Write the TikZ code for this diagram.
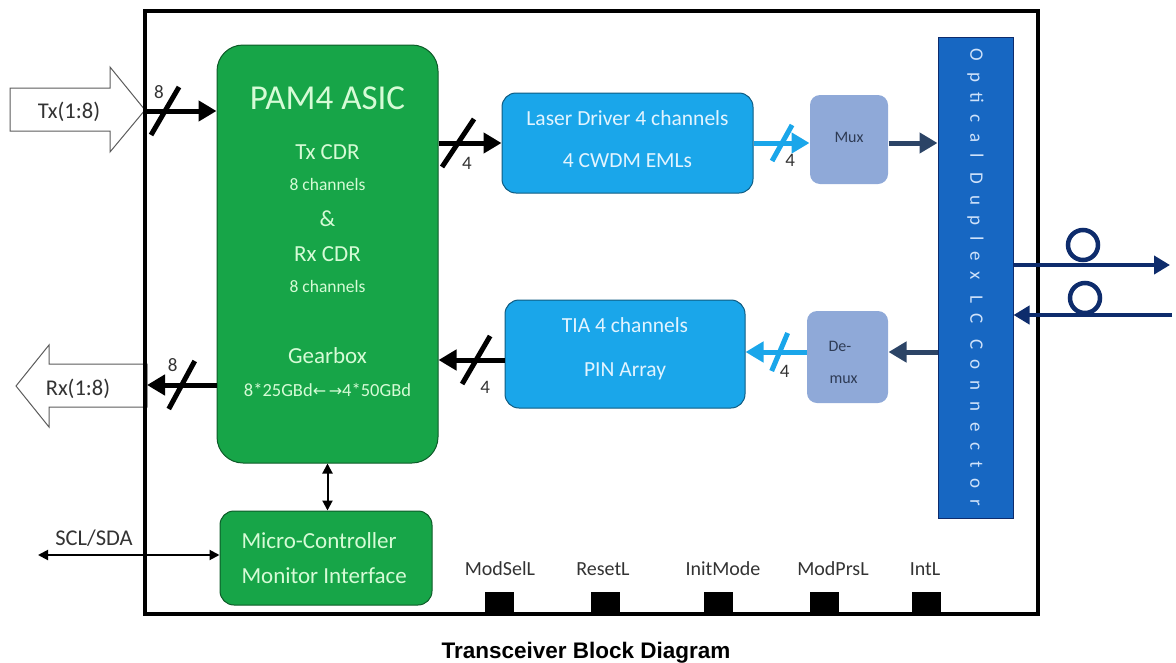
\documentclass[tikz,border=0pt]{standalone}
\usepackage{fontspec}
\setmainfont{Carlito}
\newfontfamily\titlefont{Liberation Sans}
\newfontfamily\arrowfont{DejaVu Sans}
\usetikzlibrary{arrows.meta, positioning, calc}
\definecolor{cgreen}{HTML}{17A548}
\definecolor{cgreentext}{HTML}{D6FBD6}
\definecolor{csky}{HTML}{1AA6EA}
\definecolor{cskytext}{HTML}{E2F4FF}
\definecolor{cmux}{HTML}{8FA9D8}
\definecolor{cmuxtext}{HTML}{2E3B55}
\definecolor{cconn}{HTML}{1767C2}
\definecolor{cconntext}{HTML}{CFE2FA}
\definecolor{cnavy}{HTML}{2C4466}
\definecolor{cfiber}{HTML}{0E2C6C}
\definecolor{cgrey}{HTML}{333333}
\tikzset{
  every picture/.style={line width=1pt},
  box/.style={draw=#1!55!black, fill=#1, rounded corners=14pt, line width=1pt, inner sep=0pt},
  box/.default=cgreen,
  bigarrow/.style={draw=cgrey!80, fill=white, line width=1pt},
  bus/.style={-{Triangle[length=18pt, width=20pt]}, draw=#1, line width=5pt},
  bus/.default=black,
  busmark/.style={draw=#1, line width=5pt},
  busmark/.default=black,
  buslabel/.style={text=cgrey, font=\fontsize{19}{19}\selectfont, inner sep=0pt},
  ctrl/.style={{Triangle[length=10pt, width=10pt]}-{Triangle[length=10pt, width=10pt]}, draw=black, line width=2pt},
  fiber/.style={-{Triangle[length=16pt, width=18pt]}, draw=cfiber, line width=4pt},
  pinbox/.style={fill=black, minimum width=29pt, minimum height=23pt, inner sep=0pt},
  note/.style={text=cgrey, font=\fontsize{22.5}{22.5}\selectfont, inner sep=0pt},
  pinlabel/.style={text=cgrey, font=\fontsize{20}{20}\selectfont, inner sep=0pt},
  asictxt/.style={text=cgreentext, font=\fontsize{23}{23}\selectfont, inner sep=0pt},
  asicsmall/.style={text=cgreentext, font=\fontsize{17.5}{17.5}\selectfont, inner sep=0pt},
  skytxt/.style={text=cskytext, font=\fontsize{21.5}{21.5}\selectfont, inner sep=0pt},
  muxtxt/.style={text=cmuxtext, font=\fontsize{16}{16}\selectfont, inner sep=0pt},
  title/.style={font=\titlefont\bfseries\fontsize{22.5}{22.5}\selectfont, inner sep=0pt},
}
\begin{document}
\begin{tikzpicture}[x=1pt, y=-1pt]
  \useasboundingbox (0,0) rectangle (1176,662);
  % host side buses
  \draw[bigarrow] (10,88) -- (110,88) -- (110,67) -- (145,110) -- (110,152) -- (110,131) -- (10,131) -- cycle;
  \node[note] (tx) at (69,112) {Tx(1:8)};
  \coordinate (txtip) at (146,111);
  \draw[bigarrow] (147,364) -- (49,364) -- (49,345) -- (16,386) -- (49,427) -- (49,407) -- (147,407) -- cycle;
  \node[note] (rx) at (78,389) {Rx(1:8)};
  \coordinate (rxtail) at (147,385);
  % module outline
  \node[draw, line width=4pt, minimum width=893pt, minimum height=603pt, inner sep=0pt] (module) at (591.5,312.5) {};

  % blocks
  \node[box=cgreen, rounded corners=26pt, minimum width=221pt, minimum height=418pt] (asic) at (327.5,254) {};
  \node[asictxt, font=\fontsize{35}{35}\selectfont] (asic-name) at (327.5,98) {PAM4 ASIC};
  \node[asictxt] (asic-tx) at (327.5,152) {Tx CDR};
  \node[asicsmall] (asic-txch) at (327.5,184) {8 channels};
  \node[asictxt] (asic-amp) at (327.5,219) {\&};
  \node[asictxt] (asic-rx) at (327.5,254) {Rx CDR};
  \node[asicsmall] (asic-rxch) at (327.5,286) {8 channels};
  \node[asictxt] (asic-gear) at (327.5,356) {Gearbox};
  \node[asicsmall, font=\fontsize{18.5}{18.5}\selectfont] (asic-rate) at (327.5,390) {8*25GBd{\arrowfont\fontsize{16}{16}\selectfont ←\,→}4*50GBd};

  \node[box=cgreen, minimum width=212pt, minimum height=94pt] (mcu) at (326,558) {};
  \node[asictxt, anchor=west] (mcu-a) at (241,541) {Micro-Controller};
  \node[asictxt, anchor=west] (mcu-b) at (241,576) {Monitor Interface};

  \node[box=csky, minimum width=251pt, minimum height=100pt] (laser) at (627.5,143) {};
  \node[skytxt] (laser-a) at (627.5,118) {Laser Driver 4 channels};
  \node[skytxt] (laser-b) at (627.5,161) {4 CWDM EMLs};

  \node[box=csky, minimum width=240pt, minimum height=108pt] (tia) at (625,354) {};
  \node[skytxt] (tia-a) at (625,325) {TIA 4 channels};
  \node[skytxt] (tia-b) at (625,371) {PIN Array};

  \node[box=cmux, draw=none, rounded corners=10pt, minimum width=78pt, minimum height=89pt] (mux) at (849,139.5) {};
  \node[muxtxt] (mux-t) at (849,137) {Mux};
  \node[box=cmux, draw=none, rounded corners=10pt, minimum width=81pt, minimum height=92pt] (demux) at (847.5,357) {};
  \node[muxtxt, anchor=west] (demux-a) at (828,346) {De-};
  \node[muxtxt, anchor=west] (demux-b) at (829,380) {mux};

  \node[box=cconn, rounded corners=0pt, draw=cfiber, minimum width=75pt, minimum height=481pt] (conn) at (975.5,277.5) {};
  \node[text=cconntext, rotate=-90, inner sep=0pt, font=\fontsize{19}{19}\selectfont\addfontfeature{LetterSpace=57}] (conn-t) at (conn.center) {Optical Duplex LC Connector};

  % data paths
  \draw[bus] (txtip) -- coordinate[pos=0.27] (s0) (txtip -| asic.west);
  \draw[busmark] ($(s0)+(-14,24)$) -- ($(s0)+(14,-24)$);
  \node[buslabel] (n0) at ($(s0)+(-6,-19)$) {8};

  \draw[bus] (rxtail -| asic.west) -- coordinate[pos=0.5] (s5) (rxtail);
  \draw[busmark] ($(s5)+(-13,24)$) -- ($(s5)+(13,-24)$);
  \node[buslabel] (n5) at ($(s5)+(-9,-20)$) {8};

  \draw[bus] (laser.west -| asic.east) -- coordinate[pos=0.31] (s1) (laser.west);
  \draw[busmark] ($(s1)+(-16,24)$) -- ($(s1)+(16,-24)$);
  \node[buslabel] (n1) at ($(s1)+(9,20)$) {4};

  \draw[bus=csky] (laser.east) -- coordinate[pos=0.51] (s2) (mux.west |- laser.east);
  \draw[busmark=csky] ($(s2)+(-10,18)$) -- ($(s2)+(10,-18)$);
  \node[buslabel] (n2) at ($(s2)+(8,17)$) {4};

  \draw[bus=cnavy] (mux.east |- laser.east) -- (conn.west |- laser.east);

  \draw[bus] ([yshift=-6pt]tia.west) -- coordinate[pos=0.43] (s3) ([yshift=-6pt]tia.west -| asic.east);
  \draw[busmark] ($(s3)+(-14,24)$) -- ($(s3)+(14,-24)$);
  \node[buslabel] (n3) at ($(s3)+(9,27)$) {4};

  \draw[bus=csky] ([yshift=5pt]demux.west) -- coordinate[pos=0.44] (s4) ([yshift=5pt]demux.west -| tia.east);
  \draw[busmark=csky] ($(s4)+(-8,19)$) -- ($(s4)+(8,-19)$);
  \node[buslabel] (n4) at ($(s4)+(5,19)$) {4};

  \draw[bus=cnavy] ([yshift=5pt]demux.east -| conn.west) -- ([yshift=5pt]demux.east);

  % management
  \draw[ctrl] (asic.south) -- (mcu.north -| asic.south);
  \coordinate (sclend) at (38,555);
  \draw[ctrl] (sclend) -- (mcu.west |- sclend);
  \node[note] (scl) at (94,538) {SCL/SDA};

  % fibres
  \coordinate (fibout) at (1170,265);
  \coordinate (fibin) at (1172,315);
  \draw[fiber] ([yshift=12.5pt]conn.east) -- (fibout);
  \draw[fiber] (fibin) -- ([yshift=-37.5pt]conn.east);
  \draw[cfiber, line width=4.5pt] (1083,245) circle[radius=15pt];
  \draw[cfiber, line width=4.5pt] (1085,298) circle[radius=15pt];

  % low speed pins
  \foreach \px/\lx/\pname/\ptxt in {499.5/500/modsel/ModSelL, 605.5/603/reset/ResetL, 718/723/init/InitMode, 824/833/modprs/ModPrsL, 926.5/925/intl/IntL} {
    \node[pinbox] (\pname) at (\px,603) {};
    \node[pinlabel] (\pname-l) at (\lx,569) {\ptxt};
  }

  \node[title] (caption) at (586,653) {Transceiver Block Diagram};
\end{tikzpicture}
\end{document}
